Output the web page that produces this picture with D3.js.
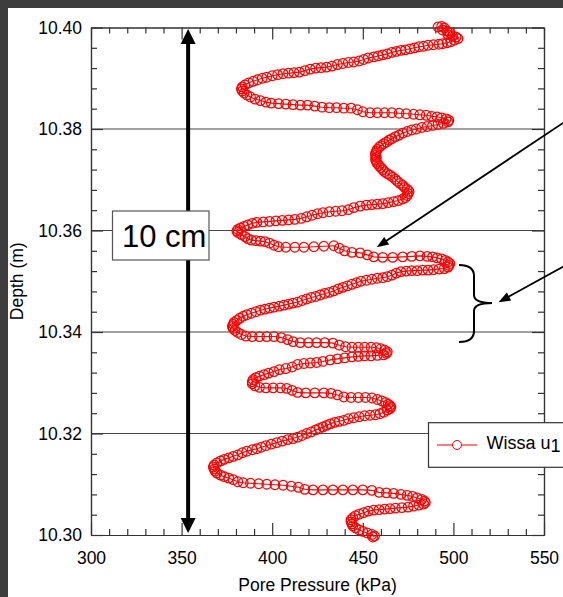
<!DOCTYPE html>
<html><head><meta charset="utf-8">
<script src="https://cdn.jsdelivr.net/npm/d3@7"></script>
<style>
html,body{margin:0;padding:0;background:#fff;}
svg{display:block;font-family:"Liberation Sans",Arial,sans-serif;}
</style></head>
<body>
<svg id="chart" width="563" height="597"></svg>
<script>
// ---- data ----
const xDomain = [300, 550];
const yDomain = [10.30, 10.40];
const xMajorTicks = [300, 350, 400, 450, 500, 550];
const yMajorTicks = [10.30, 10.32, 10.34, 10.36, 10.38, 10.40];
const gridDepths = [10.32, 10.34, 10.36, 10.38];
const xLabel = "Pore Pressure (kPa)";
const yLabel = "Depth (m)";
const seriesName = "Wissa u";
const seriesSub = "1";
const scaleLabel = "10 cm";
// [pore pressure kPa, depth m] in recorded order
const wissaU1 = [
[491.5,10.4001],[493.5,10.4002],[495.0,10.3999],[494.0,10.3995],[496.5,10.3993],[498.0,10.3990],[497.0,10.3986],[499.5,10.3984],[501.5,10.3981],[502.5,10.3978],[500.5,10.3975],[498.5,10.3972],[496.5,10.3970],[494.0,10.3968],
[492.0,10.3967],[489.0,10.3966],[486.0,10.3965],[483.5,10.3963],[481.0,10.3962],[478.5,10.3960],[476.0,10.3958],[473.5,10.3956],[471.0,10.3955],[468.5,10.3953],[466.0,10.3951],[463.5,10.3948],[461.0,10.3946],[458.5,10.3944],[456.0,10.3942],[453.0,10.3940],[450.5,10.3937],[448.0,10.3934],[445.0,10.3932],[442.0,10.3931],[439.0,10.3929],[436.0,10.3927],[433.0,10.3924],[430.0,10.3922],[427.0,10.3921],[424.0,10.3920],[421.0,10.3918],[418.0,10.3915],[415.0,10.3912],[412.0,10.3911],[409.0,10.3910],[406.0,10.3909],[403.0,10.3907],[400.0,10.3905],[397.0,10.3902],[394.5,10.3900],[392.0,10.3897],[389.5,10.3894],[387.0,10.3891],[385.0,10.3887],[383.5,10.3883],[383.0,10.3879],[383.5,10.3875],[384.5,10.3871],[386.0,10.3867],
[388.0,10.3863],[390.5,10.3859],[393.5,10.3856],[396.5,10.3853],[399.5,10.3851],[403.5,10.3850],[407.5,10.3849],[411.5,10.3848],[415.5,10.3847],[419.5,10.3847],[423.5,10.3845],[427.5,10.3843],[431.5,10.3842],[435.5,10.3842],[439.5,10.3841],[443.5,10.3841],[447.0,10.3838],[450.0,10.3834],[454.0,10.3832],[458.0,10.3832],[462.0,10.3832],[466.0,10.3832],[470.0,10.3831],[474.0,10.3830],[478.0,10.3829],[481.5,10.3828],[485.0,10.3827],[488.0,10.3825],[491.0,10.3824],[493.5,10.3822],[496.0,10.3820],[497.5,10.3817],[497.0,10.3814],
[494.5,10.3811],[491.5,10.3809],[488.5,10.3807],[485.5,10.3805],[482.5,10.3803],[479.5,10.3800],[477.0,10.3798],[474.5,10.3795],[472.0,10.3792],[470.0,10.3788],[468.0,10.3785],[466.0,10.3781],[464.5,10.3778],[463.0,10.3774],[461.5,10.3771],[460.0,10.3767],[459.0,10.3764],[458.0,10.3760],[457.5,10.3756],[457.0,10.3752],[457.0,10.3748],[457.5,10.3744],[457.0,10.3740],[457.5,10.3736],[458.0,10.3732],[459.0,10.3728],[460.0,10.3724],[461.0,10.3720],[462.0,10.3716],[463.5,10.3712],[465.0,10.3709],[466.5,10.3705],[468.0,10.3701],[469.0,10.3697],[470.5,10.3693],[472.0,10.3689],[473.0,10.3685],[474.5,10.3681],[475.5,10.3677],[475.0,10.3673],[474.5,10.3669],[473.5,10.3665],[472.0,10.3662],
[469.5,10.3659],[467.0,10.3657],[464.0,10.3655],[461.0,10.3653],[458.0,10.3652],[455.0,10.3651],[452.0,10.3650],[448.5,10.3648],[445.0,10.3645],[442.0,10.3641],[438.5,10.3639],[435.0,10.3638],[431.5,10.3637],[428.0,10.3635],[425.0,10.3633],[422.0,10.3630],[419.0,10.3627],[416.0,10.3624],[412.5,10.3622],[409.0,10.3621],[405.5,10.3620],[402.0,10.3619],[398.5,10.3618],[395.0,10.3617],[391.5,10.3616],[389.0,10.3614],[386.5,10.3611],[384.5,10.3608],[382.5,10.3605],[381.0,10.3602],[380.5,10.3599],[381.0,10.3596],
[383.0,10.3592],[385.0,10.3588],[386.5,10.3584],[388.5,10.3581],[391.0,10.3580],[393.5,10.3579],[396.0,10.3578],[398.5,10.3575],[401.0,10.3571],[403.5,10.3568],[407.5,10.3567],[412.5,10.3567],[417.5,10.3567],[423.0,10.3568],[428.5,10.3569],[434.0,10.3570],[437.0,10.3565],[440.0,10.3560],[444.0,10.3557],[448.5,10.3556],[452.5,10.3552],[456.0,10.3548],[461.0,10.3547],[466.5,10.3547],[472.0,10.3548],[477.0,10.3549],[481.5,10.3550],[485.5,10.3549],[488.5,10.3548],[491.0,10.3546],[493.5,10.3544],[495.5,10.3541],[497.0,10.3538],[498.0,10.3535],[497.5,10.3531],[497.0,10.3528],[495.0,10.3525],
[492.0,10.3524],[489.0,10.3523],[486.0,10.3522],[483.0,10.3522],[480.0,10.3521],[477.0,10.3521],[474.0,10.3520],[471.0,10.3519],[468.5,10.3516],[466.0,10.3512],[463.5,10.3509],[461.0,10.3507],[458.0,10.3506],[455.0,10.3504],[452.0,10.3502],[449.0,10.3500],[446.5,10.3497],[444.0,10.3494],[441.5,10.3491],[439.0,10.3488],[436.5,10.3485],[434.0,10.3481],[431.5,10.3478],[429.0,10.3476],[426.5,10.3473],[424.0,10.3470],[421.5,10.3468],[419.0,10.3465],[416.5,10.3462],[414.0,10.3459],[411.5,10.3457],[409.0,10.3455],[406.5,10.3453],[404.0,10.3451],[401.0,10.3449],[398.5,10.3447],[396.0,10.3445],[393.5,10.3443],[391.0,10.3440],[388.5,10.3437],[386.0,10.3434],[384.0,10.3431],[382.0,10.3427],[380.5,10.3423],[379.0,10.3419],[378.5,10.3415],[378.0,10.3411],[378.5,10.3407],[379.5,10.3403],
[381.0,10.3399],[383.0,10.3395],[385.5,10.3392],[389.0,10.3391],[393.0,10.3391],[397.0,10.3391],[401.0,10.3391],[405.0,10.3389],[408.5,10.3385],[411.5,10.3381],[415.5,10.3379],[420.0,10.3379],[424.5,10.3379],[429.0,10.3379],[433.5,10.3378],[437.0,10.3374],[440.5,10.3371],[444.0,10.3370],[447.5,10.3370],[451.0,10.3370],[454.5,10.3370],[457.5,10.3369],[460.0,10.3367],[462.0,10.3364],[463.5,10.3361],[463.0,10.3358],[461.5,10.3355],
[458.0,10.3354],[454.5,10.3353],[451.0,10.3353],[447.5,10.3352],[444.0,10.3351],[440.0,10.3349],[436.0,10.3347],[432.0,10.3345],[428.0,10.3342],[424.5,10.3340],[421.0,10.3339],[417.5,10.3338],[414.0,10.3336],[411.0,10.3331],[407.5,10.3328],[404.0,10.3326],[401.0,10.3322],[398.0,10.3319],[395.5,10.3316],[393.0,10.3313],[391.0,10.3310],[389.5,10.3306],[389.0,10.3302],[389.0,10.3298],[390.5,10.3294],
[393.0,10.3291],[396.5,10.3290],[400.5,10.3290],[404.5,10.3290],[408.0,10.3289],[411.0,10.3285],[414.0,10.3281],[418.5,10.3280],[423.5,10.3280],[428.5,10.3280],[432.5,10.3279],[436.0,10.3276],[439.5,10.3272],[443.5,10.3271],[447.5,10.3271],[451.5,10.3271],[455.0,10.3270],[458.0,10.3267],[460.5,10.3264],[462.5,10.3261],[464.0,10.3258],[465.0,10.3255],[465.5,10.3252],[465.0,10.3249],[463.5,10.3246],
[461.5,10.3242],[459.5,10.3239],[457.0,10.3237],[454.0,10.3236],[451.0,10.3235],[448.0,10.3233],[445.0,10.3231],[442.0,10.3229],[439.5,10.3226],[437.0,10.3224],[434.5,10.3222],[432.0,10.3219],[430.0,10.3216],[428.0,10.3213],[426.0,10.3210],[424.0,10.3207],[421.5,10.3203],[419.0,10.3200],[416.5,10.3196],[414.0,10.3193],[411.5,10.3190],[408.5,10.3188],[405.5,10.3185],[402.5,10.3182],[399.5,10.3179],[396.5,10.3176],[394.0,10.3173],[391.5,10.3170],[389.0,10.3168],[386.0,10.3165],[383.5,10.3162],[381.0,10.3158],[378.5,10.3155],[376.0,10.3152],[373.5,10.3149],[371.5,10.3146],[369.5,10.3142],[368.0,10.3138],[367.5,10.3134],[368.0,10.3130],[368.5,10.3126],[369.5,10.3122],
[371.5,10.3118],[373.5,10.3115],[376.0,10.3112],[378.5,10.3109],[381.0,10.3105],[384.0,10.3103],[388.0,10.3102],[392.5,10.3101],[397.0,10.3100],[401.5,10.3099],[406.0,10.3098],[410.5,10.3096],[414.5,10.3094],[418.0,10.3090],[422.5,10.3089],[428.0,10.3089],[433.5,10.3089],[439.0,10.3089],[444.5,10.3089],[450.0,10.3089],[455.0,10.3088],[459.0,10.3084],[463.0,10.3083],[467.0,10.3082],[471.0,10.3080],[474.5,10.3078],[477.5,10.3076],[480.0,10.3073],[482.5,10.3070],[484.0,10.3067],[484.5,10.3064],[483.5,10.3061],[481.0,10.3059],
[478.0,10.3057],[475.0,10.3055],[471.5,10.3054],[468.0,10.3053],[465.0,10.3052],[462.0,10.3051],[459.0,10.3050],[456.0,10.3049],[453.0,10.3047],[450.5,10.3044],[448.0,10.3041],[446.0,10.3038],[444.5,10.3034],[443.5,10.3030],[443.5,10.3026],[444.0,10.3022],[444.5,10.3018],[446.0,10.3014],[448.0,10.3010],[450.0,10.3007],[452.5,10.3004],[455.0,10.3001],[456.5,10.2998],[455.5,10.2996]
];

// ---- drawing ----
const svg = d3.select("#chart");
const W = 563, H = 597;
const pLeft = 91, pRight = 544, pTop = 27.5, pBottom = 535;
const x = d3.scaleLinear().domain(xDomain).range([pLeft, pRight]);
const y = d3.scaleLinear().domain(yDomain).range([pBottom, pTop]);
const axisColor = "#333";

// dark frame (top and left)
svg.append("rect").attr("x",0).attr("y",0).attr("width",W).attr("height",8).attr("fill","#3d3d3d");
svg.append("rect").attr("x",0).attr("y",0).attr("width",8).attr("height",H).attr("fill","#3d3d3d");

// gridlines
svg.append("g").selectAll("line").data(gridDepths).join("line")
  .attr("x1", pLeft).attr("x2", pRight)
  .attr("y1", d => y(d)).attr("y2", d => y(d))
  .attr("stroke", "#444").attr("stroke-width", 1.2);

// minor ticks
const xMinor = d3.range(300, 551, 10).filter(v => v % 50 !== 0);
const yMinor = d3.range(0, 26).map(i => 10.30 + i*0.004).filter((v,i) => i % 5 !== 0);
function styleAxis(g){
  g.select(".domain").attr("stroke", axisColor).attr("stroke-width",1.2);
  g.selectAll(".tick line").attr("stroke", axisColor).attr("stroke-width",1.2);
  g.selectAll(".tick text").attr("fill","#000").style("font-size","17.5px")
   .style("font-family","'Liberation Sans',Arial,sans-serif");
}
svg.append("g").attr("transform",`translate(0,${pBottom})`)
  .call(d3.axisBottom(x).tickValues(xMinor).tickSizeInner(-6).tickSizeOuter(0).tickFormat(""))
  .call(styleAxis);
svg.append("g").attr("transform",`translate(0,${pTop})`)
  .call(d3.axisTop(x).tickValues(xMinor).tickSizeInner(-6).tickSizeOuter(0).tickFormat(""))
  .call(styleAxis);
svg.append("g").attr("transform",`translate(${pLeft},0)`)
  .call(d3.axisLeft(y).tickValues(yMinor).tickSizeInner(-6).tickSizeOuter(0).tickFormat(""))
  .call(styleAxis);
svg.append("g").attr("transform",`translate(${pRight},0)`)
  .call(d3.axisRight(y).tickValues(yMinor).tickSizeInner(-6).tickSizeOuter(0).tickFormat(""))
  .call(styleAxis);

// major ticks with labels
svg.append("g").attr("transform",`translate(0,${pBottom})`)
  .call(d3.axisBottom(x).tickValues(xMajorTicks).tickSizeInner(-12).tickSizeOuter(0).tickPadding(16.5).tickFormat(d3.format("d")))
  .call(styleAxis);
svg.append("g").attr("transform",`translate(0,${pTop})`)
  .call(d3.axisTop(x).tickValues(xMajorTicks).tickSizeInner(-12).tickSizeOuter(0).tickFormat(""))
  .call(styleAxis);
svg.append("g").attr("transform",`translate(${pLeft},0)`)
  .call(d3.axisLeft(y).tickValues(yMajorTicks).tickSizeInner(-12).tickSizeOuter(0).tickPadding(9).tickFormat(d3.format(".2f")))
  .call(styleAxis);
svg.append("g").attr("transform",`translate(${pRight},0)`)
  .call(d3.axisRight(y).tickValues(yMajorTicks).tickSizeInner(-12).tickSizeOuter(0).tickFormat(""))
  .call(styleAxis);

// axis titles
svg.append("text").attr("x", (pLeft+pRight)/2).attr("y", 591)
  .attr("text-anchor","middle").style("font-size","17.5px").text(xLabel);
svg.append("text").attr("transform",`translate(23,${(pTop+pBottom)/2}) rotate(-90)`)
  .attr("text-anchor","middle").style("font-size","17.5px").text(yLabel);

// data line + markers
const line = d3.line().x(d => x(d[0])).y(d => y(d[1]));
svg.append("path").datum(wissaU1).attr("d", line)
  .attr("fill","none").attr("stroke","#ff0000").attr("stroke-width",1.1);
svg.append("g").selectAll("circle").data(wissaU1).join("circle")
  .attr("cx", d => x(d[0])).attr("cy", d => y(d[1])).attr("r", 4.8)
  .attr("fill","none").attr("stroke","#ff0000").attr("stroke-width",1.25);

// arrowhead helper
function arrowHead(tipX, tipY, fromX, fromY, len, half){
  const a = Math.atan2(tipY-fromY, tipX-fromX);
  const bx = tipX - len*Math.cos(a), by = tipY - len*Math.sin(a);
  const px = -Math.sin(a)*half, py = Math.cos(a)*half;
  return `M${tipX},${tipY}L${bx+px},${by+py}L${bx-px},${by-py}Z`;
}

// vertical double arrow (10 cm scale)
const ax = x(353.6);
svg.append("line").attr("x1",ax).attr("x2",ax).attr("y1",y(10.3972)).attr("y2",y(10.3028))
  .attr("stroke","#000").attr("stroke-width",4);
svg.append("path").attr("d", arrowHead(ax, y(10.3997), ax, y(10.35), 15, 7.5)).attr("fill","#000");
svg.append("path").attr("d", arrowHead(ax, y(10.3004), ax, y(10.35), 15, 7.5)).attr("fill","#000");

// 10 cm label box
svg.append("rect").attr("x",112.5).attr("y",211).attr("width",96.5).attr("height",49)
  .attr("fill","#fff").attr("stroke","#555").attr("stroke-width",1.2);
svg.append("text").attr("x",122).attr("y",246.5).style("font-size","31px").text(scaleLabel);

// annotation arrows
function thinArrow(x1,y1,x2,y2){
  const a = Math.atan2(y2-y1, x2-x1);
  svg.append("line").attr("x1",x1).attr("y1",y1)
    .attr("x2",x2-9*Math.cos(a)).attr("y2",y2-9*Math.sin(a))
    .attr("stroke","#000").attr("stroke-width",1.8);
  svg.append("path").attr("d", arrowHead(x2,y2,x1,y1,12,4.5)).attr("fill","#000");
}
thinArrow(575, 115, 376.7, 247.3);
thinArrow(575, 260.2, 498.5, 302.3);

// curly brace
svg.append("path")
  .attr("d","M459,265 Q474,265 474,276 L474,295 Q474,303 492,303 Q474,303 474,311 L474,331 Q474,342 459,342")
  .attr("fill","none").attr("stroke","#000").attr("stroke-width",2);

// legend
const lg = svg.append("g");
lg.append("rect").attr("x",428.5).attr("y",422.7).attr("width",150).attr("height",44.6)
  .attr("fill","#fff").attr("stroke","#333").attr("stroke-width",1.2);
lg.append("line").attr("x1",437).attr("x2",477).attr("y1",445).attr("y2",445)
  .attr("stroke","#ff0000").attr("stroke-width",1);
lg.append("circle").attr("cx",457).attr("cy",445).attr("r",4.5)
  .attr("fill","#fff").attr("stroke","#ff0000").attr("stroke-width",1);
const lt = lg.append("text").attr("x",486.5).attr("y",448.5).style("font-size","18px");
lt.append("tspan").text(seriesName);
lt.append("tspan").attr("dy",3.5).text(seriesSub);
</script>
</body></html>
